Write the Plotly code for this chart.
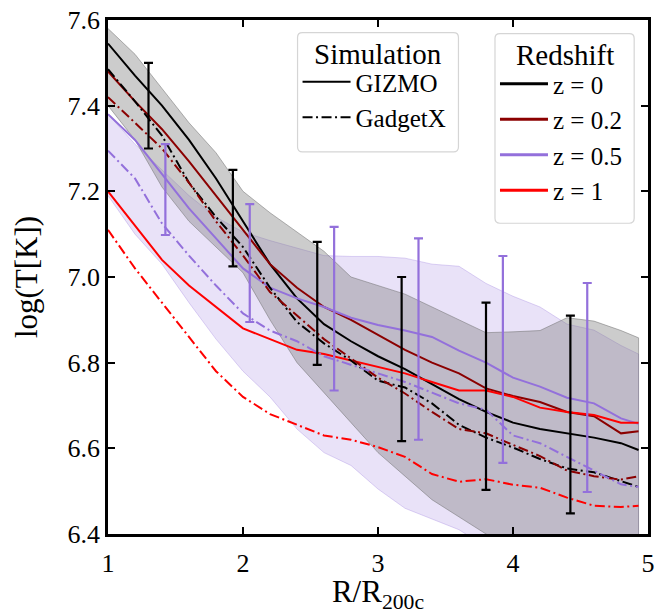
import plotly.graph_objects as go

# Radial bins (R / R200c)
R = [1.0, 1.2, 1.4, 1.6, 1.8, 2.0, 2.2, 2.4, 2.6, 2.8, 3.0,
     3.2, 3.4, 3.6, 3.8, 4.0, 4.2, 4.4, 4.6, 4.8, 4.93]

# Median log temperature profiles
gizmo_z0   = [7.545, 7.47, 7.40, 7.32, 7.23, 7.13, 7.03, 6.95, 6.89, 6.85, 6.815,
              6.785, 6.75, 6.715, 6.685, 6.66, 6.645, 6.635, 6.625, 6.612, 6.596]
gizmo_z02  = [7.48, 7.41, 7.345, 7.27, 7.19, 7.11, 7.03, 6.975, 6.93, 6.90, 6.865,
              6.83, 6.80, 6.775, 6.74, 6.722, 6.708, 6.685, 6.675, 6.635, 6.64]
gizmo_z05  = [7.38, 7.32, 7.24, 7.16, 7.09, 7.02, 6.975, 6.95, 6.93, 6.905, 6.888,
              6.875, 6.86, 6.828, 6.80, 6.765, 6.744, 6.718, 6.705, 6.67, 6.657]
gizmo_z1   = [7.20, 7.12, 7.04, 6.98, 6.93, 6.88, 6.855, 6.83, 6.82, 6.805, 6.79,
              6.775, 6.755, 6.735, 6.735, 6.72, 6.695, 6.685, 6.678, 6.66, 6.66]
gadget_z0  = [7.485, 7.41, 7.33, 7.22, 7.14, 7.07, 6.975, 6.895, 6.845, 6.805, 6.758,
              6.742, 6.705, 6.655, 6.625, 6.602, 6.575, 6.553, 6.544, 6.523, 6.51]
gadget_z02 = [7.42, 7.36, 7.30, 7.22, 7.13, 7.05, 6.965, 6.91, 6.855, 6.81, 6.765,
              6.728, 6.685, 6.645, 6.635, 6.608, 6.582, 6.548, 6.535, 6.527, 6.535]
gadget_z05 = [7.295, 7.23, 7.125, 7.05, 6.98, 6.915, 6.875, 6.85, 6.815, 6.795, 6.775,
              6.755, 6.73, 6.705, 6.69, 6.63, 6.612, 6.58, 6.548, 6.516, 6.51]
gadget_z1  = [7.11, 7.02, 6.94, 6.86, 6.78, 6.72, 6.68, 6.655, 6.63, 6.62, 6.603,
              6.58, 6.54, 6.522, 6.528, 6.515, 6.508, 6.485, 6.466, 6.463, 6.466]

# Scatter bands (16th-84th percentile)
band_z0_hi  = [7.58, 7.52, 7.44, 7.36, 7.29, 7.20, 7.15, 7.105, 7.06, 7.00, 6.98,
               6.96, 6.93, 6.90, 6.87, 6.872, 6.875, 6.905, 6.897, 6.875, 6.858]
band_z0_lo  = [7.40, 7.32, 7.21, 7.13, 7.07, 7.01, 6.90, 6.80, 6.73, 6.66, 6.59,
               6.535, 6.48, 6.44, 6.40, 6.36, 6.32, 6.29, 6.26, 6.23, 6.21]
band_z05_hi = [7.38, 7.31, 7.25, 7.19, 7.14, 7.105, 7.085, 7.067, 7.05, 7.048, 7.048,
               7.044, 7.03, 7.025, 6.985, 6.955, 6.93, 6.89, 6.876, 6.84, 6.82]
band_z05_lo = [7.19, 7.10, 7.03, 6.94, 6.855, 6.78, 6.72, 6.645, 6.59, 6.56, 6.505,
               6.46, 6.435, 6.41, 6.37, 6.34, 6.31, 6.28, 6.25, 6.22, 6.20]

# Error bars (min / max at selected radii)
err_z0_R    = [1.3, 1.925, 2.55, 3.175, 3.8, 4.425]
err_z0_hi   = [7.50, 7.25, 7.082, 7.00, 6.94, 6.91]
err_z0_lo   = [7.30, 7.025, 6.795, 6.617, 6.503, 6.448]
err_z05_R   = [1.425, 2.05, 2.675, 3.3, 3.925, 4.55]
err_z05_hi  = [7.31, 7.17, 7.117, 7.09, 7.049, 6.986]
err_z05_lo  = [7.098, 6.895, 6.735, 6.62, 6.566, 6.498]

x_ticks = [1, 2, 3, 4, 5]
y_ticks = [6.4, 6.6, 6.8, 7.0, 7.2, 7.4, 7.6]

sim_names = ["GIZMO", "GadgetX"]
z_names = ["z = 0", "z = 0.2", "z = 0.5", "z = 1"]

BLACK = "#000000"
DARKRED = "#8b0000"
PURPLE = "#9370db"
RED = "#ff0000"
DASHDOT = "10px,3.5px,2px,3.5px"
FONT = "Liberation Serif"

# Plot-area geometry in pixels (used to place legend frames)
W, H = 661, 614
ML, MR, MT, MB = 108, 6, 10, 78
PW, PH = W - ML - MR, H - MT - MB


def px2paper(px, py):
    return (px - ML) / PW, 1 - (py - MT) / PH


fig = go.Figure()


def band(lo, hi, fill, edge):
    fig.add_trace(go.Scatter(
        x=R + R[::-1], y=hi + lo[::-1], mode="lines", fill="toself",
        fillcolor=fill, line=dict(color=edge, width=1),
        hoverinfo="skip", showlegend=False))


band(band_z05_lo, band_z05_hi, "rgba(147,112,219,0.2)", "rgba(147,112,219,0.3)")
band(band_z0_lo, band_z0_hi, "rgba(128,128,128,0.4)", "rgba(110,110,110,0.5)")

profiles = [
    (gizmo_z0, BLACK, "solid"), (gizmo_z02, DARKRED, "solid"),
    (gizmo_z05, PURPLE, "solid"), (gizmo_z1, RED, "solid"),
    (gadget_z0, BLACK, DASHDOT), (gadget_z02, DARKRED, DASHDOT),
    (gadget_z05, PURPLE, DASHDOT), (gadget_z1, RED, DASHDOT),
]
for yv, col, dash in profiles:
    fig.add_trace(go.Scatter(x=R, y=yv, mode="lines",
                             line=dict(color=col, width=2, dash=dash),
                             showlegend=False))


def errbars(xs, lo, hi, col):
    mid = [(a + b) / 2 for a, b in zip(lo, hi)]
    fig.add_trace(go.Scatter(
        x=xs, y=mid, mode="markers",
        marker=dict(size=1, color="rgba(0,0,0,0)"),
        error_y=dict(type="data", symmetric=False,
                     array=[h - m for h, m in zip(hi, mid)],
                     arrayminus=[m - l for m, l in zip(mid, lo)],
                     color=col, thickness=2.2, width=4.5),
        showlegend=False, hoverinfo="skip"))


errbars(err_z0_R, err_z0_lo, err_z0_hi, BLACK)
errbars(err_z05_R, err_z05_lo, err_z05_hi, PURPLE)

# Legend entries: simulation code
for i, (name, dash) in enumerate(zip(sim_names, ["solid", DASHDOT])):
    fig.add_trace(go.Scatter(x=[None], y=[None], mode="lines", name=name,
                             line=dict(color=BLACK, width=2, dash=dash),
                             legend="legend", legendgroup=f"s{i}"))

# Legend entries: redshift
for i, (name, col) in enumerate(zip(z_names, [BLACK, DARKRED, PURPLE, RED])):
    fig.add_trace(go.Scatter(x=[None], y=[None], mode="lines", name=name,
                             line=dict(color=col, width=3),
                             legend="legend2", legendgroup=f"r{i}"))


def frame(x0, y0, x1, y1, r=5):
    """Rounded legend frame given in pixel coordinates."""
    rx, ry = r / PW, r / PH
    a0, b0 = px2paper(x0, y1)
    a1, b1 = px2paper(x1, y0)
    path = (f"M{a0 + rx},{b0} L{a1 - rx},{b0} Q{a1},{b0} {a1},{b0 + ry} "
            f"L{a1},{b1 - ry} Q{a1},{b1} {a1 - rx},{b1} "
            f"L{a0 + rx},{b1} Q{a0},{b1} {a0},{b1 - ry} "
            f"L{a0},{b0 + ry} Q{a0},{b0} {a0 + rx},{b0} Z")
    fig.add_shape(type="path", path=path, xref="paper", yref="paper",
                  fillcolor="rgba(255,255,255,0.8)",
                  line=dict(color="#d5d5d5", width=1.2), layer="above")


frame(300, 23, 463, 145)
frame(500, 24, 641, 218)

for title, cx, cy in [("Simulation", 381.5, 45), ("Redshift", 570.5, 46)]:
    ax, ay = px2paper(cx, cy)
    fig.add_annotation(x=ax, y=ay, xref="paper", yref="paper",
                       text=title, showarrow=False,
                       xanchor="center", yanchor="middle",
                       font=dict(family=FONT, size=29, color="black"))

axis_common = dict(
    showline=True, linecolor="black", linewidth=2.5, mirror="allticks",
    ticks="inside", ticklen=7, tickwidth=2, tickcolor="black",
    showgrid=False, zeroline=False, ticklabeloverflow="allow",
    tickfont=dict(family=FONT, size=26, color="black"),
)

legend_common = dict(
    bgcolor="rgba(0,0,0,0)", borderwidth=0,
    font=dict(family=FONT, size=25, color="black"),
    xanchor="left", yanchor="top", tracegroupgap=0, itemwidth=48,
    traceorder="grouped",
)

lx1, ly1 = px2paper(300, 50)
lx2, ly2 = px2paper(500, 52)

fig.update_layout(
    width=W, height=H,
    margin=dict(l=ML, r=MR, t=MT, b=MB),
    plot_bgcolor="white", paper_bgcolor="white",
    font=dict(family=FONT, color="black"),
    xaxis=dict(range=[1, 5], tickvals=x_ticks,
               ticktext=[str(v) for v in x_ticks],
               title=dict(text="R/R<sub>200c</sub>",
                          font=dict(family=FONT, size=31), standoff=8),
               ticklabelstandoff=4, **axis_common),
    yaxis=dict(range=[6.4, 7.6], tickvals=y_ticks,
               ticktext=[f"{v:.1f}" for v in y_ticks],
               title=dict(text="log(T[K])",
                          font=dict(family=FONT, size=31), standoff=21),
               ticklabelstandoff=0, **axis_common),
    legend=dict(x=lx1, y=ly1, **legend_common),
    legend2=dict(x=lx2, y=ly2, **legend_common),
)

fig.write_html("out.html")
